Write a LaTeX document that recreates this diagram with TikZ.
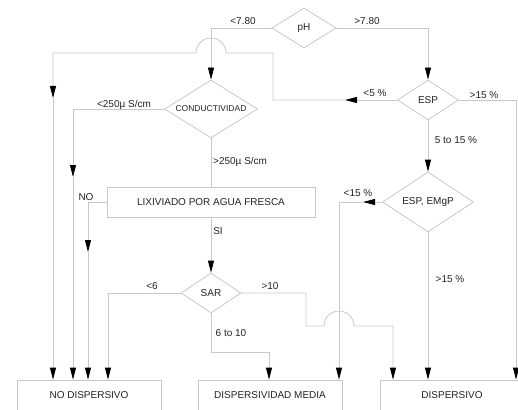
\documentclass[tikz,border=0pt]{standalone}
\usepackage{fontspec}
\setmainfont{Liberation Sans}
\usetikzlibrary{arrows.meta,shapes.geometric}
\definecolor{linegray}{RGB}{200,200,200}
\definecolor{txt}{RGB}{35,35,35}
\begin{document}
\begin{tikzpicture}[x=1pt,y=-1pt,
 ln/.style={draw=linegray,line width=0.8pt},
 arr/.style={-{Triangle[length=12pt,width=6pt,color=black]}},
 dia/.style={diamond,aspect=1.6,draw=linegray,line width=0.8pt,inner sep=0pt,text=txt,font=\fontsize{10}{12}\selectfont},
 box/.style={rectangle,draw=linegray,line width=0.8pt,minimum height=30pt,inner sep=0pt,text=txt,font=\fontsize{10}{12}\selectfont},
 lab/.style={text=txt,font=\fontsize{10}{12}\selectfont,inner sep=0pt}]
\clip (0,0) rectangle (518,409);

% decision and process nodes
\node[dia,minimum width=64pt,minimum height=40pt] (ph) at (304,28) {pH};
\node[dia,minimum width=93pt,minimum height=58pt,font=\fontsize{8.5}{10}\selectfont] (cond) at (211,109) {CONDUCTIVIDAD};
\node[dia,minimum width=61pt,minimum height=40pt] (esp) at (428,100) {ESP};
\node[dia,minimum width=91pt,minimum height=60pt] (espm) at (428,202) {ESP, EMgP};
\node[box,minimum width=208pt] (lix) at (211,202) {LIXIVIADO POR AGUA FRESCA};
\node[dia,minimum width=60pt,minimum height=40pt] (sar) at (211,293) {SAR};
\node[box,minimum width=144pt] (nd) at (89,395) {NO DISPERSIVO};
\node[box,minimum width=144pt] (dm) at (270,395) {DISPERSIVIDAD MEDIA};
\node[box,minimum width=144pt] (ds) at (452,395) {DISPERSIVO};

% bend points
\coordinate (c1) at (211,28);
\coordinate (c2) at (428,28);
\coordinate (c3) at (73,109);
\coordinate (m3) at (73,177);
\coordinate (c5) at (88,202);
\coordinate (m5) at (88,252);
\coordinate (c7) at (108,293);
\coordinate (c8a) at (306,293);
\coordinate (c8b) at (306,326);
\coordinate (j8a) at (324,326);
\coordinate (c8c) at (393,326);
\coordinate (c9a) at (211,352);
\coordinate (c9b) at (269,352);
\coordinate (m10) at (345,100);
\coordinate (c10a) at (273,100);
\coordinate (c10b) at (273,53);
\coordinate (j10a) at (226,53);
\coordinate (c10c) at (53,53);
\coordinate (m10b) at (53,98);
\coordinate (c11) at (516,100);
\coordinate (m13) at (363,202);
\coordinate (c13) at (339,202);

% connectors
\draw[ln,arr] (ph.west) -- (c1) -- (cond.north);
\draw[ln,arr] (ph.east) -- (c2) -- (esp.north);
\draw[ln,arr] (cond.west) -- (c3) -- (m3);
\draw[ln,arr] (m3) -- (m3 |- nd.north);
\draw[ln] (cond.south) -- (lix.north);
\draw[ln,arr] (lix.west) -- (c5) -- (m5);
\draw[ln,arr] (m5) -- (m5 |- nd.north);
\draw[ln,arr] (lix.south) -- (sar.north);
\draw[ln,arr] (sar.west) -- (c7) -- (c7 |- nd.north);
\draw[ln,arr] (sar.east) -- (c8a) -- (c8b) -- (j8a) arc[start angle=180,end angle=0,radius=15pt] -- (c8c) -- (c8c |- ds.north);
\draw[ln,arr] (sar.south) -- (c9a) -- (c9b) -- (c9b |- dm.north);
\draw[ln,arr] (esp.west) -- (m10);
\draw[ln,arr] (m10) -- (c10a) -- (c10b) -- (j10a) arc[start angle=0,end angle=180,radius=15pt] -- (c10c) -- (m10b);
\draw[ln,arr] (m10b) -- (m10b |- nd.north);
\draw[ln,arr] (esp.east) -- (c11) -- (c11 |- ds.north);
\draw[ln,arr] (esp.south) -- (espm.north);
\draw[ln,arr] (espm.west) -- (m13);
\draw[ln,arr] (m13) -- (c13) -- (c13 |- dm.north);
\draw[ln,arr] (espm.south) -- (espm.south |- ds.north);

% labels
\node[lab] (l1) at (243,21) {<7.80};
\node[lab] (l2) at (367,21) {>7.80};
\node[lab] (l3) at (375,93) {<5 \%};
\node[lab] (l4) at (484,95) {>15 \%};
\node[lab] (l5) at (124,105) {<250µ S/cm};
\node[lab,anchor=west] (l6) at (213,162) {>250µ S/cm};
\node[lab] (l7) at (86,197) {NO};
\node[lab] (l8) at (218,231) {SI};
\node[lab] (l9) at (152,286) {<6};
\node[lab] (l10) at (270,286) {>10};
\node[lab] (l11) at (231,333) {6 to 10};
\node[lab] (l12) at (456,140) {5 to 15 \%};
\node[lab] (l13) at (358,193) {<15 \%};
\node[lab] (l14) at (450,279) {>15 \%};
\end{tikzpicture}
\end{document}
